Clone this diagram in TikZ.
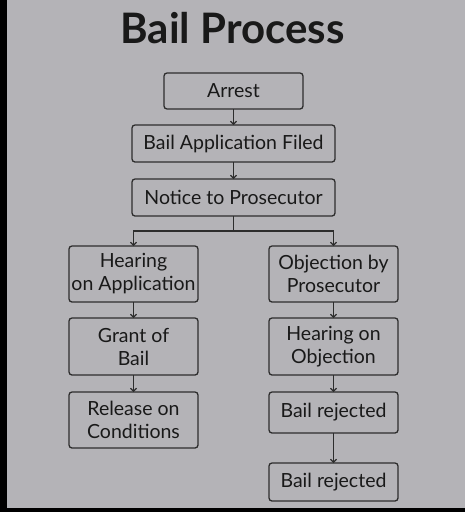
\documentclass[tikz,border=0pt]{standalone}
\usepackage{fontspec}
\setmainfont{Lato}
\usetikzlibrary{arrows.meta}
\definecolor{bg}{RGB}{180,179,183}
\definecolor{ink}{RGB}{25,25,25}
\definecolor{edge}{RGB}{45,45,45}
\begin{document}
\begin{tikzpicture}[x=1pt,y=-1pt,
  box/.style={draw=edge,line width=1.3pt,rounded corners=3pt,inner sep=0pt,outer sep=0pt,
    text=ink,align=center,font=\fontsize{19.5}{23}\selectfont},
  arr/.style={draw=edge,line width=1.1pt,-{Straight Barb[length=3pt,width=6pt]}},
  conn/.style={draw=edge,line width=1.1pt}]
\useasboundingbox (0,0) rectangle (465,512);
\fill[bg] (0,0) rectangle (465,512);
\fill[black] (0,0) rectangle (7,512);
\fill[black] (0,508) rectangle (465,512);
\node[text=ink,font=\fontsize{42}{48}\selectfont\bfseries] (title) at (232.5,28) {Bail Process};
\node[box,minimum width=139pt,minimum height=36pt] (arrest) at (233.5,91) {Arrest};
\node[box,minimum width=203pt,minimum height=37pt] (filed) at (233.5,143.5) {Bail Application Filed};
\node[box,minimum width=203pt,minimum height=37pt] (notice) at (233.5,197.5) {Notice to Prosecutor};
\node[box,minimum width=129pt,minimum height=56pt] (hoa) at (133.5,274) {Hearing\\on Application};
\node[box,minimum width=129pt,minimum height=57pt] (grant) at (133.5,346.5) {Grant of\\Bail};
\node[box,minimum width=129pt,minimum height=56pt] (release) at (133.5,420) {Release on\\Conditions};
\node[box,minimum width=129pt,minimum height=56pt] (obj) at (333.5,274) {Objection by\\Prosecutor};
\node[box,minimum width=129pt,minimum height=57pt] (hoo) at (333.5,346.5) {Hearing on\\Objection};
\node[box,minimum width=129pt,minimum height=41pt] (rej1) at (333.5,412.5) {Bail rejected};
\node[box,minimum width=129pt,minimum height=38pt] (rej2) at (333.5,482) {Bail rejected};
\coordinate (split) at (233.5,231);
\draw[arr] (arrest) -- (filed);
\draw[arr] (filed) -- (notice);
\draw[conn] (notice) -- (split);
\draw[arr] (split) -| (hoa.north);
\draw[arr] (split) -| (obj.north);
\draw[arr] (hoa) -- (grant);
\draw[arr] (grant) -- (release);
\draw[arr] (obj) -- (hoo);
\draw[arr] (hoo) -- (rej1);
\draw[arr] (rej1) -- (rej2);
\end{tikzpicture}
\end{document}
